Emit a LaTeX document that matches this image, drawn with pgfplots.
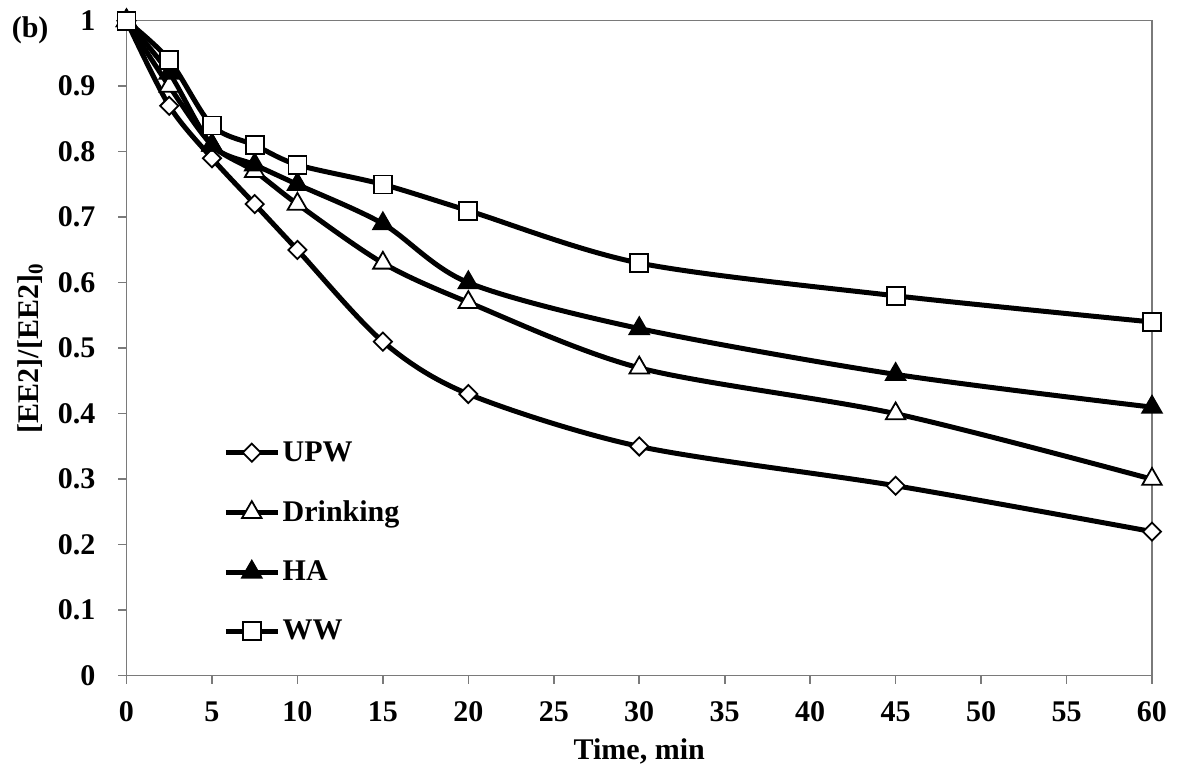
\documentclass[border=0pt]{standalone}
\usepackage{fontspec}
\setmainfont{Liberation Serif}
\usepackage{pgfplots}
\pgfplotsset{compat=1.18}

\definecolor{axisgray}{HTML}{7A7A7A}

% EE2 decay in four water matrices
\pgfplotstableread{
t    upw   drink  ha    ww
0    1.00  1.00   1.00  1.00
2.5  0.87  0.90   0.92  0.94
5    0.79  0.81   0.81  0.84
7.5  0.72  0.77   0.78  0.81
10   0.65  0.72   0.75  0.78
15   0.51  0.63   0.69  0.75
20   0.43  0.57   0.60  0.71
30   0.35  0.47   0.53  0.63
45   0.29  0.40   0.46  0.58
60   0.22  0.30   0.41  0.54
}\datatable

\newcommand{\lblfont}{\fontsize{15}{17}\selectfont\bfseries}

\begin{document}
\begin{tikzpicture}[x=1pt,y=1pt]
% fixed canvas
\path[use as bounding box] (-63.25,-46.65) rectangle (525.25,337.85);
\begin{axis}[
  at={(0,0)}, anchor=south west,
  scale only axis,
  width=512.75pt, height=327.5pt,
  xmin=0, xmax=60, ymin=0, ymax=1,
  xtick={0,5,...,60},
  ytick={0,0.1,...,1.0},
  axis line style={axisgray, line width=0.8pt},
  tick style={axisgray, line width=0.8pt},
  tick align=outside,
  major tick length=4pt,
  xtick pos=bottom, ytick pos=left,
  font=\lblfont,
  /pgf/number format/assume math mode=true,
  yticklabel style={/pgf/number format/fixed, /pgf/number format/precision=1},
  tick label style={font=\lblfont},
  every x tick label/.append style={yshift=-5.5pt},
  every y tick label/.append style={xshift=-8pt},
  xlabel={Time, min},
  ylabel={[EE2]/[EE2]\textsubscript{0}},
  xlabel style={at={(rel axis cs:0.5,-0.115)}, anchor=center},
  ylabel style={at={(rel axis cs:-0.094,0.5)}, anchor=center},
  every axis plot/.append style={black, line width=2.5pt, smooth, tension=0.5},
  legend style={draw=none, fill=none, inner sep=0pt,
    at={(rel axis cs:0.094,0.362)}, anchor=north west,
    row sep=15.8pt, font=\lblfont,
    nodes={inner sep=1.2pt}},
  legend cell align=left,
  legend image code/.code={%
    \draw[#1, mark repeat=2, mark phase=2]
      plot coordinates {(0pt,0pt) (13pt,0pt) (26pt,0pt)};},
  clip=false,
]
\addplot[mark=square*, mark size=3.2pt,
  mark options={solid, rotate=45, fill=white, draw=black, line width=0.9pt}]
  table[x=t, y=upw] {\datatable};
\addlegendentry{UPW}
\addplot[mark=triangle*, mark size=5.6pt,
  mark options={solid, fill=white, draw=black, line width=0.9pt}]
  table[x=t, y=drink] {\datatable};
\addlegendentry{Drinking}
\addplot[mark=triangle*, mark size=5.6pt,
  mark options={solid, fill=black, draw=black, line width=0.9pt}]
  table[x=t, y=ha] {\datatable};
\addlegendentry{HA}
\addplot[mark=square*, mark size=4.5pt,
  mark options={solid, fill=white, draw=black, line width=0.9pt}]
  table[x=t, y=ww] {\datatable};
\addlegendentry{WW}
\node[font=\lblfont, anchor=center]
  at (rel axis cs:-0.094,0.986) {(b)};
\end{axis}
\end{tikzpicture}
\end{document}
